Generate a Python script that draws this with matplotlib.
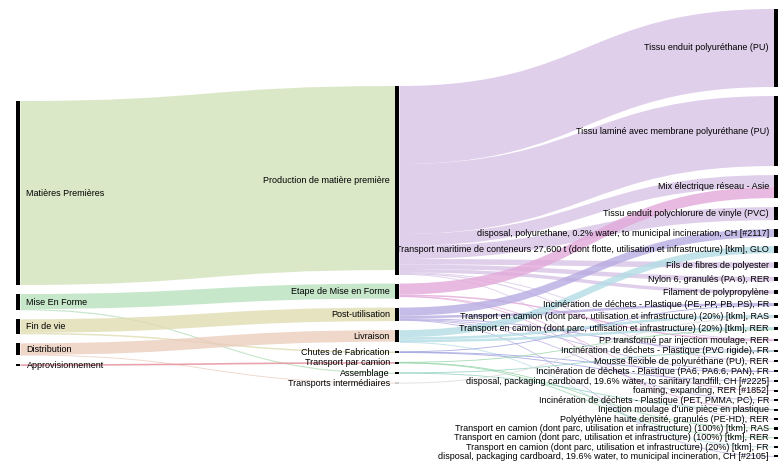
import numpy as np
import matplotlib.pyplot as plt
from matplotlib.path import Path
from matplotlib.patches import PathPatch, Rectangle

plt.rcParams['font.family'] = ['Liberation Sans', 'DejaVu Sans']

# Noeuds par colonne (de haut en bas)
left_nodes = ['Matières Premières', 'Mise En Forme', 'Fin de vie', 'Distribution',
              'Approvisionnement']
mid_nodes = ['Production de matière première', 'Etape de Mise en Forme', 'Post-utilisation',
             'Livraison', 'Chutes de Fabrication', 'Transport par camion', 'Assemblage',
             'Transports intermédiaires']
right_nodes = [
    'Tissu enduit polyuréthane (PU)',
    'Tissu laminé avec membrane polyuréthane (PU)',
    'Mix électrique réseau - Asie',
    'Tissu enduit polychlorure de vinyle (PVC)',
    'disposal, polyurethane, 0.2% water, to municipal incineration, CH [#2117]',
    'Transport maritime de conteneurs 27,600 t (dont flotte, utilisation et infrastructure) [tkm], GLO',
    'Fils de fibres de polyester',
    'Nylon 6, granulés (PA 6), RER',
    'Filament de polypropylène',
    'Incinération de déchets - Plastique (PE, PP, PB, PS), FR',
    'Transport en camion (dont parc, utilisation et infrastructure) (20%) [tkm], RAS',
    'Transport en camion (dont parc, utilisation et infrastructure) (20%) [tkm], RER',
    'PP transformé par injection moulage, RER',
    'Incinération de déchets - Plastique (PVC rigide), FR',
    'Mousse flexible de polyuréthane (PU), RER',
    'Incinération de déchets - Plastique (PA6, PA6.6, PAN), FR',
    'disposal, packaging cardboard, 19.6% water, to sanitary landfill, CH [#2225]',
    'foaming, expanding, RER [#1852]',
    'Incinération de déchets - Plastique (PET, PMMA, PC), FR',
    "Injection moulage d'une pièce en plastique",
    'Polyéthylène haute densité, granulés (PE-HD), RER',
    'Transport en camion (dont parc, utilisation et infrastructure) (100%) [tkm], RAS',
    'Transport en camion (dont parc, utilisation et infrastructure) (100%) [tkm], RER',
    'Transport en camion (dont parc, utilisation et infrastructure) (20%) [tkm], FR',
    'disposal, packaging cardboard, 19.6% water, to municipal incineration, CH [#2105]',
]

# Liens : source -> cible
link_src = (
    ['Matières Premières', 'Mise En Forme', 'Mise En Forme', 'Fin de vie', 'Fin de vie',
     'Distribution', 'Distribution', 'Approvisionnement']
    + ['Production de matière première'] * 10
    + ['Etape de Mise en Forme'] * 4
    + ['Post-utilisation'] * 6
    + ['Livraison'] * 4
    + ['Chutes de Fabrication'] * 3
    + ['Transport par camion'] * 3
    + ['Assemblage'] * 2
    + ['Transports intermédiaires']
)
link_tgt = [
    'Production de matière première', 'Etape de Mise en Forme', 'Assemblage',
    'Post-utilisation', 'Chutes de Fabrication', 'Livraison', 'Transports intermédiaires',
    'Transport par camion',
    # production
    right_nodes[0], right_nodes[1], right_nodes[2], right_nodes[3], right_nodes[6],
    right_nodes[7], right_nodes[8], right_nodes[14], right_nodes[20], right_nodes[12],
    # mise en forme
    right_nodes[2], right_nodes[12], right_nodes[17], right_nodes[19],
    # post-utilisation
    right_nodes[4], right_nodes[9], right_nodes[13], right_nodes[15], right_nodes[18],
    right_nodes[24],
    # livraison
    right_nodes[5], right_nodes[10], right_nodes[11], right_nodes[23],
    # chutes
    right_nodes[9], right_nodes[15], right_nodes[16],
    # transport par camion
    right_nodes[11], right_nodes[21], right_nodes[22],
    # assemblage
    right_nodes[19], right_nodes[13],
    # transports intermediaires
    right_nodes[10],
]
link_val = [
    184, 15, 1.2, 13.5, 1.5, 11.5, 0.4, 1.6,
    78, 70, 12, 13, 5.5, 4.5, 3.5, 1.2, 0.3, 0.5,
    11, 1.5, 0.5, 0.3,
    8, 2.5, 1.2, 0.5, 0.4, 0.2,
    7, 2.6, 2.5, 0.2,
    0.5, 0.3, 0.5,
    0.5, 0.3, 0.3,
    0.2, 0.3,
    0.4,
]

link_colors = {
    'Matières Premières': '#d3e3bb',
    'Mise En Forme': '#b8e1bd',
    'Fin de vie': '#e0dcb2',
    'Distribution': '#ebcdbd',
    'Approvisionnement': '#e48a98',
    'Production de matière première': '#d8c3e6',
    'Etape de Mise en Forme': '#e3a9da',
    'Post-utilisation': '#b7abe2',
    'Livraison': '#b3dde4',
    'Chutes de Fabrication': '#9d9fdf',
    'Transport par camion': '#95d6a8',
    'Assemblage': '#8fd0c0',
    'Transports intermédiaires': '#d8d8d8',
}

PAD = 9.05
W, H = 779, 465
columns = [left_nodes, mid_nodes, right_nodes]
col_x = [16, 395, 774]
col_top = [101, 86, 9]
NODE_W = 4.5
FS = 6.5

# taille des noeuds = max(entrant, sortant)
inflow = {n: 0.0 for c in columns for n in c}
outflow = dict(inflow)
for s, t, v in zip(link_src, link_tgt, link_val):
    outflow[s] += v
    inflow[t] += v
size = {n: max(inflow[n], outflow[n]) for n in inflow}

ypos, xpos = {}, {}
for ci, nodes in enumerate(columns):
    y = col_top[ci]
    for n in nodes:
        ypos[n] = y
        xpos[n] = col_x[ci]
        y += size[n] + PAD

# empilement des liens dans les noeuds
idx = range(len(link_val))
src_off, tgt_off = {}, {}
for n in size:
    out_l = sorted([i for i in idx if link_src[i] == n], key=lambda i: ypos[link_tgt[i]])
    y = ypos[n]
    for i in out_l:
        src_off[i] = y
        y += link_val[i]
    in_l = sorted([i for i in idx if link_tgt[i] == n], key=lambda i: ypos[link_src[i]])
    y = ypos[n]
    for i in in_l:
        tgt_off[i] = y
        y += link_val[i]

fig = plt.figure(figsize=(W / 100, H / 100), dpi=100)
ax = fig.add_axes([0, 0, 1, 1])
ax.set_xlim(0, W)
ax.set_ylim(H, 0)
ax.axis('off')

for i in idx:
    s, t, v = link_src[i], link_tgt[i], link_val[i]
    x0 = xpos[s] + NODE_W
    x1 = xpos[t]
    xm = (x0 + x1) / 2
    w = max(v, 0.9)
    c0 = src_off[i] + v / 2
    c1 = tgt_off[i] + v / 2
    a0, b0 = c0 - w / 2, c0 + w / 2
    a1, b1 = c1 - w / 2, c1 + w / 2
    verts = [(x0, a0), (xm, a0), (xm, a1), (x1, a1), (x1, b1),
             (xm, b1), (xm, b0), (x0, b0), (x0, a0)]
    codes = [Path.MOVETO, Path.CURVE4, Path.CURVE4, Path.CURVE4, Path.LINETO,
             Path.CURVE4, Path.CURVE4, Path.CURVE4, Path.CLOSEPOLY]
    ax.add_patch(PathPatch(Path(verts, codes), facecolor=link_colors[s],
                           edgecolor='none', alpha=0.8, zorder=1))

for ci, nodes in enumerate(columns):
    for n in nodes:
        h = max(size[n], 2.2)
        yc = ypos[n] + size[n] / 2
        col = '#cccccc' if n == 'Transports intermédiaires' else '#000000'
        ax.add_patch(Rectangle((xpos[n], yc - h / 2), NODE_W, h, facecolor=col,
                               edgecolor='none', zorder=3))
        if ci == 0:
            ax.text(xpos[n] + NODE_W + 6, yc, n, ha='left', va='center',
                    fontsize=FS, color='#000000', zorder=4)
        else:
            ax.text(xpos[n] - 5, yc, n, ha='right', va='center',
                    fontsize=FS, color='#000000', zorder=4)

fig.savefig('out.png', dpi=100)
